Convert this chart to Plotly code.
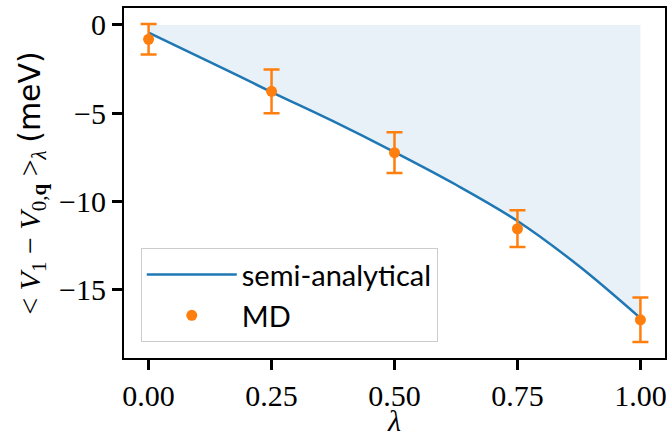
import plotly.graph_objects as go

# semi-analytical curve
lam_curve = [0.0, 0.125, 0.25, 0.375, 0.5, 0.625, 0.75, 0.875, 1.0]
v_curve = [-0.43, -2.1, -3.8, -5.45, -7.2, -9.05, -11.1, -13.65, -16.6]

# MD points
lam_md = [0.0, 0.25, 0.5, 0.75, 1.0]
v_md = [-0.81, -3.76, -7.23, -11.54, -16.7]
err_md = [0.87, 1.24, 1.15, 1.04, 1.26]

xticks = [0.0, 0.25, 0.5, 0.75, 1.0]
xtick_labels = ["0.00", "0.25", "0.50", "0.75", "1.00"]
yticks = [0, -5, -10, -15]
ytick_labels = ["0", "\u22125", "\u221210", "\u221215"]

BLUE = "#1f77b4"
ORANGE = "#ff7f0e"
SERIF = "Liberation Serif, DejaVu Serif, serif"
SANS = "Lato, DejaVu Sans, sans-serif"

fig = go.Figure()
fig.add_trace(go.Scatter(x=[lam_curve[0], lam_curve[-1]], y=[0, 0], mode="lines",
                         line=dict(width=0), showlegend=False, hoverinfo="skip"))
fig.add_trace(go.Scatter(x=lam_curve, y=v_curve, mode="lines", line=dict(width=0, shape="spline"),
                         fill="tonexty", fillcolor="rgba(31,119,180,0.1)",
                         showlegend=False, hoverinfo="skip"))
fig.add_trace(go.Scatter(x=lam_curve, y=v_curve, mode="lines", name="semi-analytical",
                         legendrank=1,
                         line=dict(color=BLUE, width=2.5, shape="spline")))
fig.add_trace(go.Scatter(x=lam_md, y=v_md, mode="markers", name="MD", legendrank=2,
                         marker=dict(color=ORANGE, size=11),
                         error_y=dict(type="data", array=err_md, color=ORANGE, thickness=2.5, width=8)))

ytitle = ("&lt; <i>V</i><sub>1</sub> \u2212 <i>V</i><sub>0,<b>q</b></sub> &gt;<sub><i>\u03bb</i></sub> "
          "<span style=\"font-family:DejaVu Sans\">(meV)</span>")

fig.update_layout(
    width=671, height=437,
    margin=dict(l=124, r=4, t=8, b=77),
    paper_bgcolor="white", plot_bgcolor="white",
    font=dict(family=SERIF, size=28, color="black"),
    xaxis=dict(range=[-0.05, 1.05], tickvals=xticks, ticktext=xtick_labels,
               showgrid=False, zeroline=False, showline=True, linecolor="black", linewidth=2,
               mirror=True, ticks="outside", ticklen=10, tickwidth=2.5, tickcolor="black",
               tickfont=dict(family=SERIF, size=30),
               title=dict(text="<i>\u03bb</i>", font=dict(family=SERIF, size=30), standoff=0)),
    yaxis=dict(range=[-18.86, 0.96], tickvals=yticks, ticktext=ytick_labels,
               showgrid=False, zeroline=False, showline=True, linecolor="black", linewidth=2,
               mirror=True, ticks="outside", ticklen=10, tickwidth=2.5, tickcolor="black",
               tickfont=dict(family=SERIF, size=30),
               title=dict(text=ytitle, font=dict(family=SERIF, size=30), standoff=10)),
    legend=dict(x=0.031, y=0.045, xanchor="left", yanchor="bottom",
                bgcolor="rgba(255,255,255,0.8)", bordercolor="#cccccc", borderwidth=1,
                font=dict(family=SANS, size=29), itemwidth=90, tracegroupgap=0,
                traceorder="normal"),
)

fig.write_html("out.html", config={"displayModeBar": False},
               post_script="document.body.style.margin='0';document.body.style.overflow='hidden';")
